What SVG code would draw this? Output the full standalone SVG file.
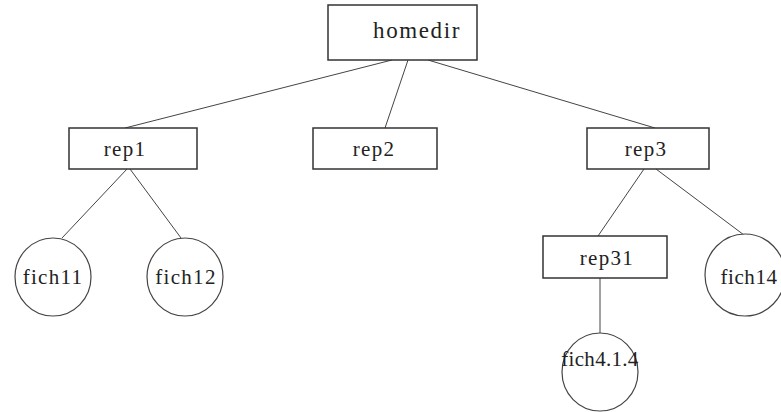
<svg xmlns="http://www.w3.org/2000/svg" width="781" height="412" viewBox="0 0 781 412">
<style>
.box{fill:#fff;stroke:#333;stroke-width:1.5}
.leaf{fill:#fff;stroke:#444;stroke-width:1.2}
.edge{stroke:#444;stroke-width:1;fill:none}
text{font-family:'Liberation Serif','Times New Roman','DejaVu Serif',serif;font-size:21px;letter-spacing:1.3px;fill:#222;text-anchor:middle}
</style>
<rect width="781" height="412" fill="#fff"/>
<g id="connectors">
<line class="edge" x1="392" y1="60" x2="125" y2="128"/>
<line class="edge" x1="408" y1="60" x2="385" y2="128"/>
<line class="edge" x1="428" y1="60" x2="655" y2="128"/>
<line class="edge" x1="127" y1="169" x2="62" y2="238"/>
<line class="edge" x1="130" y1="169" x2="181" y2="238"/>
<line class="edge" x1="644" y1="169" x2="598" y2="236"/>
<line class="edge" x1="656" y1="169" x2="744" y2="235"/>
<line class="edge" x1="600" y1="278" x2="600" y2="333"/>
</g>
<g id="homedir"><rect class="box" x="328" y="5" width="149" height="55"/><text x="417" y="38" style="font-size:23px;letter-spacing:1.6px">homedir</text></g>
<g id="rep1"><rect class="box" x="69" y="128" width="128" height="41"/><text x="125" y="156">rep1</text></g>
<g id="rep2"><rect class="box" x="313" y="128" width="124" height="41"/><text x="374" y="156">rep2</text></g>
<g id="rep3"><rect class="box" x="587" y="128" width="122" height="41"/><text x="646" y="156">rep3</text></g>
<g id="rep31"><rect class="box" x="543" y="236" width="124" height="42"/><text x="607" y="265">rep31</text></g>
<g id="fich11"><ellipse class="leaf" cx="53" cy="277" rx="38" ry="39"/><text x="53" y="284">fich11</text></g>
<g id="fich12"><ellipse class="leaf" cx="185" cy="277" rx="38" ry="39"/><text x="186" y="284">fich12</text></g>
<g id="fich14"><ellipse class="leaf" cx="745" cy="275" rx="40" ry="41"/><text x="749" y="284" style="letter-spacing:0.6px">fich14</text></g>
<g id="fich4.1.4"><ellipse class="leaf" cx="600" cy="372" rx="38" ry="39"/><text x="600" y="366" style="letter-spacing:0.3px">fich4.1.4</text></g>
</svg>
